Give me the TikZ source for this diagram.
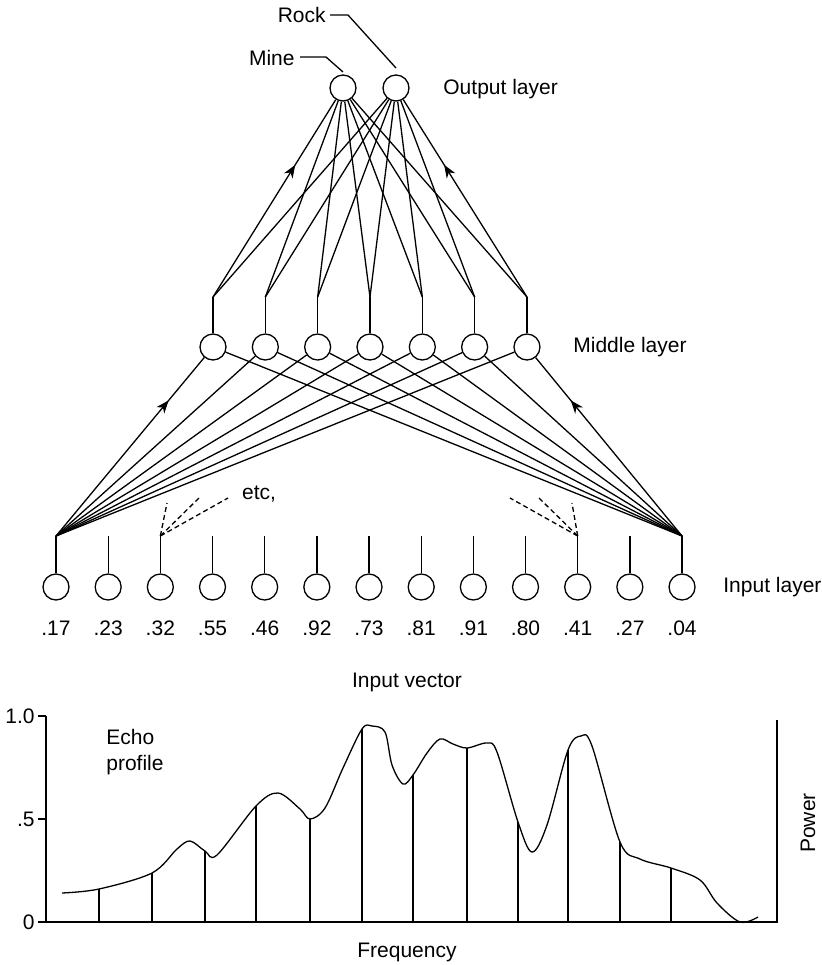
\documentclass[tikz,border=0pt]{standalone}
\usepackage{fontspec}
\setmainfont{Liberation Sans}
\usetikzlibrary{arrows.meta,decorations.markings}
\begin{document}
\begin{tikzpicture}[x=0.5pt,y=-0.5pt,
  neuron/.style={circle,draw,line width=0.65pt,minimum size=13pt,inner sep=0pt},
  conn/.style={line width=0.65pt},
  lbl/.style={font=\fontsize{10.5}{13}\selectfont, inner sep=0pt},
  etcline/.style={conn,dash pattern=on 2.5pt off 1.6pt},
  midarrow/.style={postaction={decorate},decoration={markings,mark=at position #1 with {\arrow{Stealth[length=6.5pt,width=5pt,inset=2pt]}}}}
]
\useasboundingbox (0,0) rectangle (822,965);

% input layer
\foreach \val [count=\i] in {.17,.23,.32,.55,.46,.92,.73,.81,.91,.80,.41,.27,.04} {
  \pgfmathsetmacro\xx{56+52.17*(\i-1)}
  \node[neuron] (in\i) at (\xx,587) {};
  \coordinate (it\i) at (\xx,536);
  \node[lbl] (val\i) at (\xx,628) {\val};
  \draw[conn] (in\i.north) -- (it\i);
}
% middle layer
\foreach \j in {1,...,7} {
  \pgfmathsetmacro\xx{213+52.33*(\j-1)}
  \node[neuron] (m\j) at (\xx,347) {};
  \coordinate (mt\j) at (\xx,297);
  \draw[conn] (m\j.north) -- (mt\j);
}
% output layer
\node[neuron] (o1) at (343,88) {};
\node[neuron] (o2) at (396,88) {};

% input -> middle
\draw[conn,midarrow=0.76] (it1) -- (m1);
\foreach \j in {2,...,7} { \draw[conn] (it1) -- (m\j); }
\draw[conn,midarrow=0.76] (it13) -- (m7);
\foreach \j in {1,...,6} { \draw[conn] (it13) -- (m\j); }

% middle -> output
\draw[conn,midarrow=0.67] (mt1) -- (o1);
\draw[conn] (mt1) -- (o2);
\foreach \j in {2,...,6} { \draw[conn] (mt\j) -- (o1); \draw[conn] (mt\j) -- (o2); }
\draw[conn] (mt7) -- (o1);
\draw[conn,midarrow=0.67] (mt7) -- (o2);

% etc dashed lines
\coordinate (d1) at (167,503);
\coordinate (d2) at (200,497);
\coordinate (d3) at (228,498);
\coordinate (e1) at (510,498);
\coordinate (e2) at (538,497);
\coordinate (e3) at (572,503);
\draw[etcline] (it3) -- (d1);
\draw[etcline] (it3) -- (d2);
\draw[etcline] (it3) -- (d3);
\draw[etcline] (it11) -- (e1);
\draw[etcline] (it11) -- (e2);
\draw[etcline] (it11) -- (e3);
\node[lbl] (etc) at (259,494) {etc,};

% labels
\node[lbl,anchor=west] (outlbl) at (443,89) {Output layer};
\node[lbl,anchor=west] (midlbl) at (573,347) {Middle layer};
\node[lbl,anchor=west] (inlbl) at (723,587) {Input layer};
\node[lbl,anchor=east] (mine) at (295,58) {Mine};
\node[lbl,anchor=east] (rock) at (326,15) {Rock};
\coordinate (ml1) at (300,57);
\coordinate (ml2) at (326,57);
\coordinate (ml3) at (343,72);
\draw[conn] (ml1) -- (ml2) -- (ml3);
\coordinate (rl1) at (330,15);
\coordinate (rl2) at (348,15);
\coordinate (rl3) at (396,68);
\draw[conn] (rl1) -- (rl2) -- (rl3);

% echo profile graph
\node[lbl] (ivec) at (407,682) {Input vector};
\draw[conn] (46,716) -- (46,922) -- (777,922) -- (777,720);
\draw[conn] (38,716) -- (46,716);
\draw[conn] (38,819) -- (46,819);
\draw[conn] (38,922) -- (46,922);
\node[lbl,anchor=east] (t10) at (35,716) {1.0};
\node[lbl,anchor=east] (t05) at (35,819) {.5};
\node[lbl,anchor=east] (t00) at (35,922) {0};
\node[lbl,align=left,anchor=west] (echo) at (106,752) {Echo\\profile};
\node[lbl] (freq) at (407,952) {Frequency};
\node[lbl,rotate=90] (power) at (808,823) {Power};

\draw[conn] plot[smooth,tension=0.55] coordinates {
 (62,893) (99,889) (152,873) (177,849) (190,841) (205,851) (217,855)
 (256,806) (278,793) (300,809) (310,819) (325,808) (343,768)
 (362,729) (372,726) (385,732) (392,765) (403,784) (413,775) (427,753)
 (440,739) (453,744) (467,748) (487,743) (497,752) (518,822)
 (532,852) (547,825) (568,750) (581,736) (592,746) (620,842)
 (640,859) (671,868) (700,880) (717,903) (740,922) (758,917)};
\foreach \x/\y in {99/889,152/873,205/851,256/806,310/819,362/729,413/775,467/748,518/822,568/750,620/842,671/868} {
  \draw[conn] (\x,922) -- (\x,\y);
}
\end{tikzpicture}
\end{document}
